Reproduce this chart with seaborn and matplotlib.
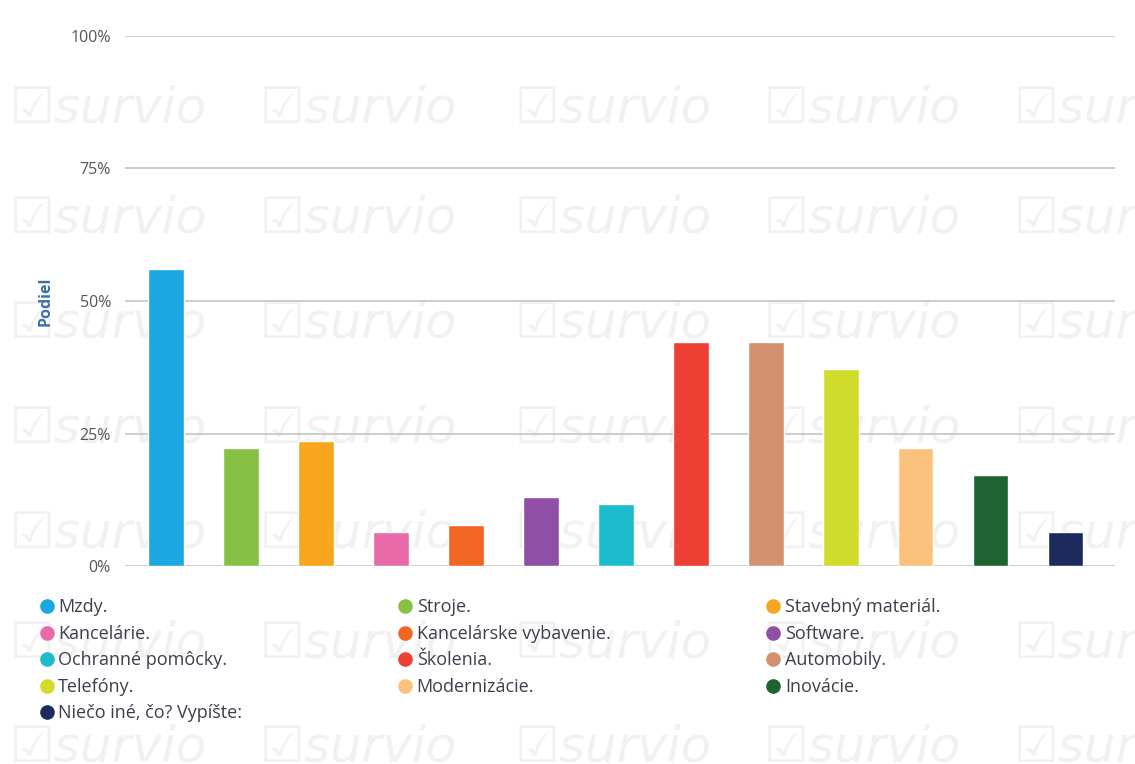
import matplotlib
matplotlib.use("Agg")
import matplotlib.pyplot as plt
from matplotlib.lines import Line2D
from matplotlib.ticker import FixedLocator
import seaborn as sns
import pandas as pd

# dáta
categories = ["Mzdy.", "Stroje.", "Stavebný materiál.", "Kancelárie.",
              "Kancelárske vybavenie.", "Software.", "Ochranné pomôcky.",
              "Školenia.", "Automobily.", "Telefóny.", "Modernizácie.",
              "Inovácie.", "Niečo iné, čo? Vypíšte:"]
shares = [56, 22.3, 23.6, 6.4, 7.7, 13, 11.7, 42.3, 42.3, 37.2, 22.3, 17.2, 6.4]
colors = ["#1ba7e1", "#87c143", "#f8a61e", "#e96aa9", "#f26522", "#8e4fa5",
          "#1cbccc", "#ee3f35", "#d4916f", "#cfdc2b", "#fbc27e", "#1f6331",
          "#1c2a5e"]
yticks = [0, 25, 50, 75, 100]
ytick_labels = ["0%", "25%", "50%", "75%", "100%"]

sns.set_theme(style="white")
plt.rcParams['font.family'] = ['Open Sans', 'DejaVu Sans']

df = pd.DataFrame({"kategoria": categories, "podiel": shares})

fig = plt.figure(figsize=(11.35, 7.64), dpi=100)
ax = fig.add_axes([0.110, 0.259, 0.872, 0.694])
ax.patch.set_alpha(0)

# vodoznak
for yy in [0.840, 0.696, 0.558, 0.421, 0.284, 0.140, 0.003]:
    for xx in [0.008, 0.229, 0.453, 0.673, 0.893]:
        fig.text(xx, yy, "\u2611survio", fontsize=36, style="italic",
                 color="#f1f1f1", zorder=-5, family=['DejaVu Sans'])

sns.barplot(data=df, x="kategoria", y="podiel", hue="kategoria",
            palette=colors, legend=False, width=0.47, ax=ax,
            saturation=1, zorder=3)

ax.set_ylim(0, 100)
ax.set_xlim(-0.55, 12.65)
ax.yaxis.set_major_locator(FixedLocator(yticks))
ax.set_yticklabels(ytick_labels, fontsize=11.5, color="#555555")
ax.tick_params(axis="y", length=0, pad=10)
ax.set_xticks([])
ax.set_xlabel("")
ax.grid(axis="y", color="#c8c8c8", linewidth=1.3, zorder=0)
for s in ax.spines.values():
    s.set_visible(False)

ax.set_ylabel("Podiel", fontsize=11.5, fontweight="bold", color="#3b6fa8",
              labelpad=12)

# legenda (poradie po riadkoch)
handles = [Line2D([], [], marker="o", linestyle="", markersize=9.5,
                  markerfacecolor=c, markeredgecolor=c) for c in colors]
order = [0, 3, 6, 9, 12, 1, 4, 7, 10, 2, 5, 8, 11]
leg = fig.legend([handles[i] for i in order], [categories[i] for i in order],
                 ncol=3, loc="upper left", bbox_to_anchor=(0.018, 0.238),
                 frameon=False, fontsize=13, handletextpad=0.1,
                 columnspacing=8.45, labelspacing=0.47, handlelength=1.1)
for t in leg.get_texts():
    t.set_color("#3a3f4a")

fig.savefig("out.png", dpi=100, facecolor="white")
